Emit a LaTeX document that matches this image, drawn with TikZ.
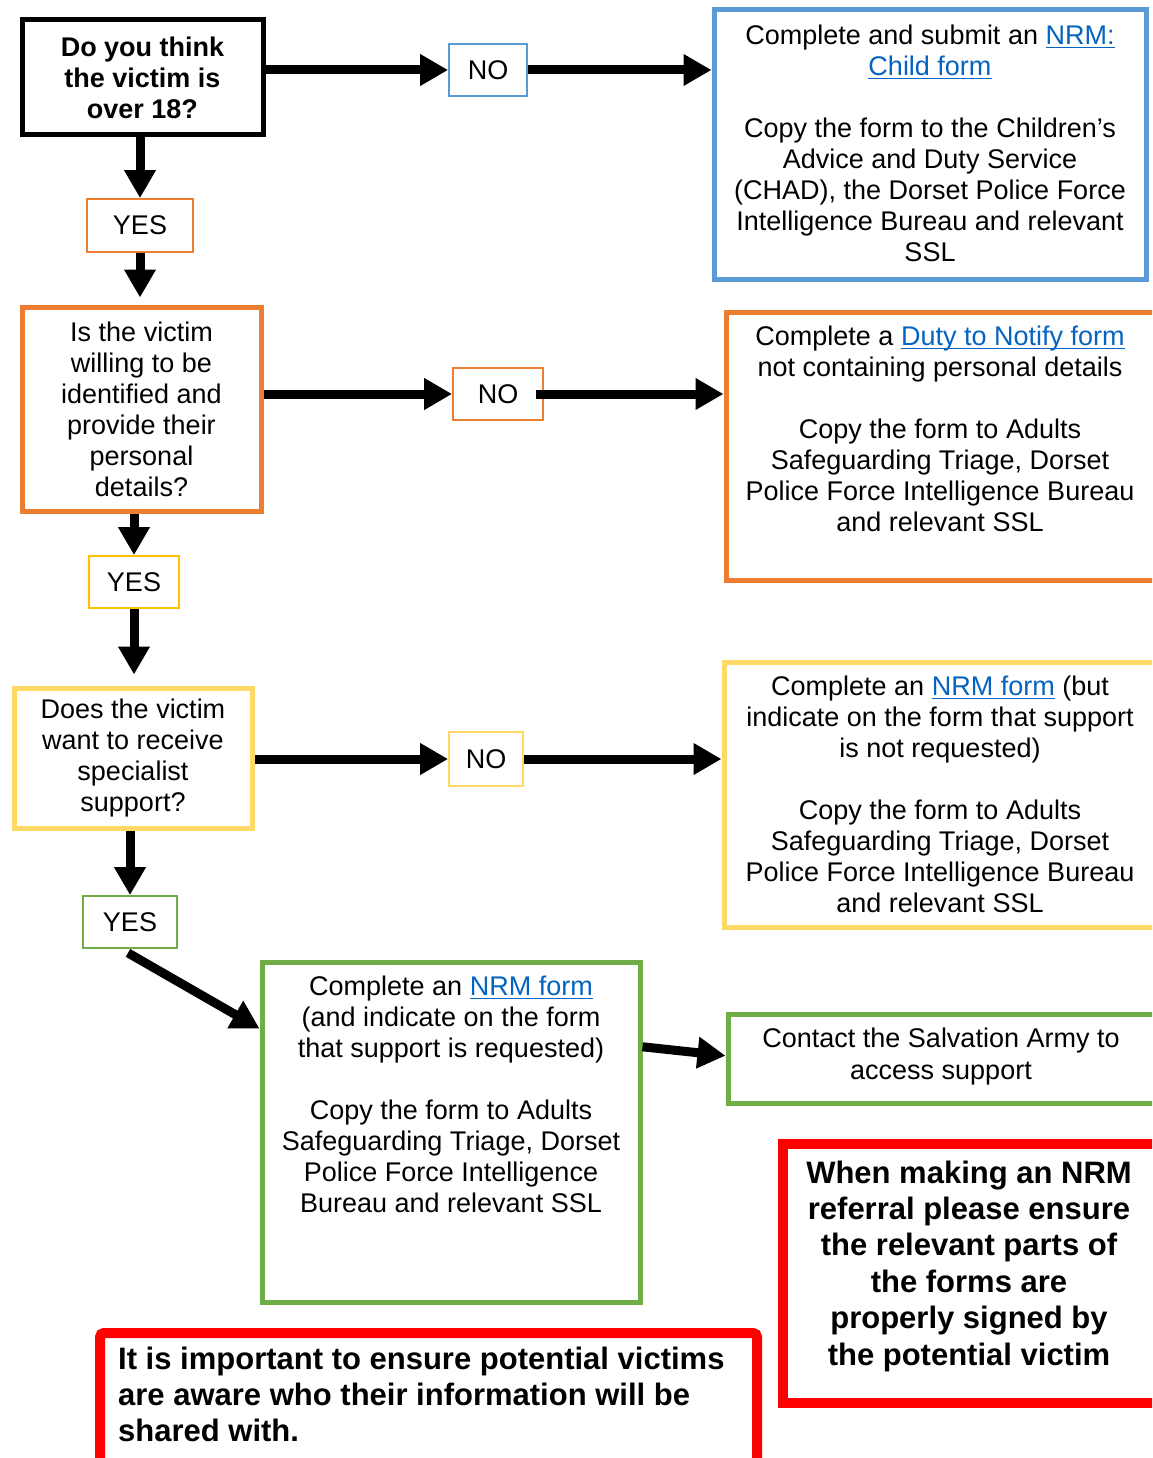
\documentclass[tikz,border=0pt]{standalone}
\usepackage{fontspec}
\setmainfont{Liberation Sans}
\usetikzlibrary{arrows.meta,calc}
\definecolor{cblue}{HTML}{5B9BD5}
\definecolor{corange}{HTML}{ED7D31}
\definecolor{cyellow}{HTML}{FFD966}
\definecolor{cyellowB}{HTML}{FFC000}
\definecolor{cgreen}{HTML}{70AD47}
\definecolor{cred}{HTML}{FF0000}
\definecolor{linkblue}{HTML}{0563C1}
\newcommand\lnk[1]{{\color{linkblue}\setbox0=\hbox{#1}\rlap{\rule[-3.5pt]{\wd0}{1.5pt}}\box0}}
\tikzset{
  regtext/.style={font=\fontsize{27}{31}\selectfont, align=center, inner sep=0pt},
  boldtext/.style={font=\fontsize{31}{36.4}\selectfont\bfseries, inner sep=0pt},
  bigbox/.style={draw, line width=5pt, inner sep=0pt},
  redbox/.style={draw=cred, line width=10pt, inner sep=0pt},
  tagbox/.style={draw, line width=1.8pt, inner sep=0pt, font=\fontsize{27}{31}\selectfont},
  arr/.style={line width=9pt, -{Triangle[length=28pt,width=30pt]}},
}
\begin{document}
\begin{tikzpicture}[x=1pt,y=-1pt]
\clip (0,0) rectangle (1152,1458);
\fill[white] (0,0) rectangle (1152,1458);

% question boxes
\node[bigbox, draw=black, minimum width=241pt, minimum height=115pt, align=center,
      font=\fontsize{27}{31}\selectfont\bfseries] (Q1) at (142.5,77.5)
      {Do you think\\the victim is\\over 18?};
\node[bigbox, draw=corange, minimum width=239pt, minimum height=204pt, regtext] (Q2) at (141.5,409)
      {Is the victim\\willing to be\\identified and\\provide their\\personal\\details?};
\node[bigbox, draw=cyellow, minimum width=238pt, minimum height=140pt, regtext] (Q3) at (133,758)
      {Does the victim\\want to receive\\specialist\\support?};

% tags
\node[tagbox, draw=cblue, minimum width=78pt, minimum height=52pt] (NO1) at (488,70) {NO};
\node[tagbox, draw=corange, minimum width=106pt, minimum height=53pt] (YES1) at (140,225.5) {YES};
\node[tagbox, draw=corange, minimum width=90pt, minimum height=52pt] (NO2) at (498,394) {NO};
\node[tagbox, draw=cyellowB, minimum width=90pt, minimum height=52pt] (YES2) at (134,582) {YES};
\node[tagbox, draw=cyellow, minimum width=74pt, minimum height=54pt] (NO3) at (486,759) {NO};
\node[tagbox, draw=cgreen, minimum width=94pt, minimum height=52pt] (YES3) at (130,922) {YES};

% outcome boxes
\node[bigbox, draw=cblue, minimum width=432pt, minimum height=269pt] (Blue) at (930,144.5) {};
\node[regtext, anchor=north] (BlueT) at (930,25)
  {Complete and submit an \lnk{NRM:}\\\lnk{Child form}\\[31pt]Copy the form to the Children’s\\Advice and Duty Service\\(CHAD), the Dorset Police Force\\Intelligence Bureau and relevant\\SSL};

\node[bigbox, draw=corange, minimum width=434pt, minimum height=268pt] (OrR) at (943,446) {};
\node[regtext, anchor=north] (OrRT) at (940,326)
  {Complete a \lnk{Duty to Notify form}\\not containing personal details\\[31pt]Copy the form to Adults\\Safeguarding Triage, Dorset\\Police Force Intelligence Bureau\\and relevant SSL};

\node[bigbox, draw=cyellow, minimum width=436pt, minimum height=265pt] (YelR) at (942,794.5) {};
\node[regtext, anchor=north] (YelRT) at (940,676)
  {Complete an \lnk{NRM form} (but\\indicate on the form that support\\is not requested)\\[31pt]Copy the form to Adults\\Safeguarding Triage, Dorset\\Police Force Intelligence Bureau\\and relevant SSL};

\node[bigbox, draw=cgreen, minimum width=378pt, minimum height=340pt] (Green) at (451,1132) {};
\node[regtext, anchor=north] (GreenT) at (451,976)
  {Complete an \lnk{NRM form}\\(and indicate on the form\\that support is requested)\\[31pt]Copy the form to Adults\\Safeguarding Triage, Dorset\\Police Force Intelligence\\Bureau and relevant SSL};

\node[bigbox, draw=cgreen, minimum width=432pt, minimum height=89pt] (Salv) at (944,1058.5) {};
\node[regtext, anchor=north, font=\fontsize{27}{32}\selectfont] (SalvT) at (941,1028)
  {Contact the Salvation Army to\\access support};

\node[redbox, minimum width=387pt, minimum height=259pt] (RedR) at (976.5,1273.5) {};
\node[boldtext, align=center, anchor=north] (RedRT) at (969,1160.5)
  {When making an NRM\\referral please ensure\\the relevant parts of\\the forms are\\properly signed by\\the potential victim};

\node[redbox, rounded corners=4pt, minimum width=657pt, minimum height=147pt] (RedB) at (428.5,1406.5) {};
\node[boldtext, align=left, anchor=north west] (RedBT) at (118,1346.5)
  {It is important to ensure potential victims\\are aware who their information will be\\shared with.};

% connectors
\draw[arr] (Q1.east |- NO1.west) -- (NO1.west);
\draw[arr] (NO1.east) -- (Blue.west |- NO1.east);
\draw[arr] (Q1.south -| YES1.north) -- (YES1.north);
\draw[arr, shorten >=7pt] (YES1.south) -- (YES1.south |- Q2.north);
\draw[arr] (Q2.east |- NO2.west) -- (NO2.west);
\draw[arr] ([xshift=-8pt]NO2.east) -- (OrR.west |- NO2.east);
\draw[arr] (Q2.south -| YES2.north) -- (YES2.north);
\draw[arr, shorten >=11pt] (YES2.south) -- (YES2.south |- Q3.north);
\draw[arr] (Q3.east |- NO3.west) -- (NO3.west);
\draw[arr] (NO3.east) -- (YelR.west |- NO3.east);
\draw[arr] (Q3.south -| YES3.north) -- (YES3.north);
\draw[arr] ([xshift=-2pt,yshift=-4pt]YES3.south) -- ($(Green.north west)!0.2!(Green.south west)$);
\draw[arr] ($(Green.north east)!0.253!(Green.south east)$) -- ($(Salv.north west)!0.47!(Salv.south west)$);
\end{tikzpicture}
\end{document}
